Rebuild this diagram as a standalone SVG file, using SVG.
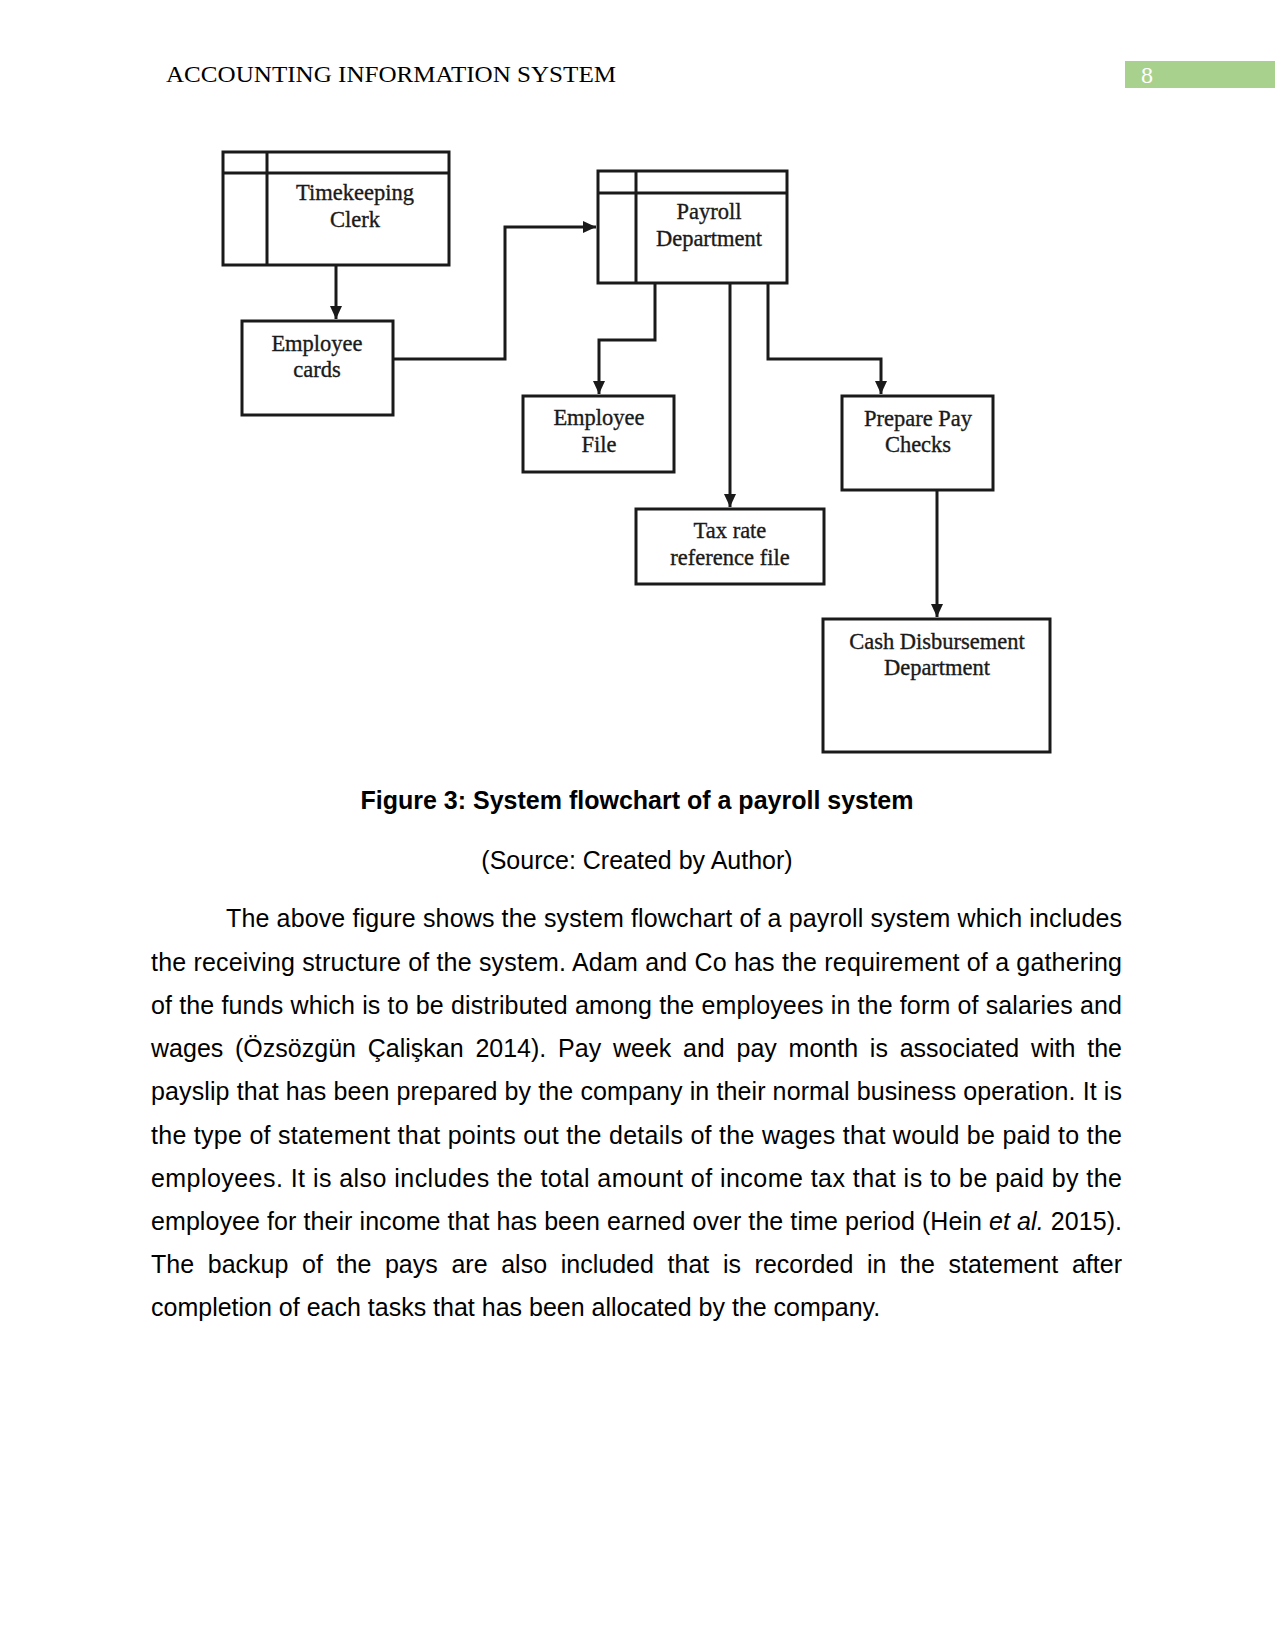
<svg xmlns="http://www.w3.org/2000/svg" width="1275" height="1651" viewBox="0 0 1275 1651">
<style>
.box{fill:#fff;stroke:#1a1a1a;stroke-width:3}
.div{fill:none;stroke:#1a1a1a;stroke-width:3}
.lbl{font-family:"Liberation Serif","Times New Roman",serif;font-size:22.5px;fill:#1a1a1a;stroke:#1a1a1a;stroke-width:0.35;text-anchor:middle}
.con{fill:none;stroke:#1a1a1a;stroke-width:3}
.body{font-family:"Liberation Sans",Arial,sans-serif;font-size:25px;fill:#000}
</style>
<defs>
<marker id="ah" markerUnits="userSpaceOnUse" markerWidth="14" markerHeight="12" refX="13" refY="6" orient="auto">
<path d="M0,0 L13,6 L0,12 z" fill="#1a1a1a"/>
</marker>
</defs>
<rect width="1275" height="1651" fill="#fff"/>
<g id="header">
<text x="166" y="82" font-family="'Liberation Serif','Times New Roman',serif" font-size="24" fill="#000" textLength="450" lengthAdjust="spacingAndGlyphs">ACCOUNTING INFORMATION SYSTEM</text>
<rect x="1125" y="61" width="150" height="27" fill="#a9d18e"/>
<text x="1141" y="83" font-family="'Liberation Serif','Times New Roman',serif" font-size="24" fill="#fff">8</text>
</g>
<g id="timekeeping-clerk">
<rect class="box" x="223" y="152" width="226" height="113"/>
<path class="div" d="M223,173 H449 M267,152 V265"/>
<text class="lbl" x="355" y="200">Timekeeping</text>
<text class="lbl" x="355" y="227">Clerk</text>
</g>
<g id="employee-cards">
<rect class="box" x="242" y="321" width="151" height="94"/>
<text class="lbl" x="317" y="351">Employee</text>
<text class="lbl" x="317" y="377">cards</text>
</g>
<g id="payroll-department">
<rect class="box" x="598" y="171" width="189" height="112"/>
<path class="div" d="M598,193 H787 M636,171 V283"/>
<text class="lbl" x="709" y="219">Payroll</text>
<text class="lbl" x="709" y="246">Department</text>
</g>
<g id="employee-file">
<rect class="box" x="523" y="396" width="151" height="76"/>
<text class="lbl" x="599" y="425">Employee</text>
<text class="lbl" x="599" y="452">File</text>
</g>
<g id="tax-rate-file">
<rect class="box" x="636" y="509" width="188" height="75"/>
<text class="lbl" x="730" y="538">Tax rate</text>
<text class="lbl" x="730" y="565">reference file</text>
</g>
<g id="prepare-pay-checks">
<rect class="box" x="842" y="396" width="151" height="94"/>
<text class="lbl" x="918" y="426">Prepare Pay</text>
<text class="lbl" x="918" y="452">Checks</text>
</g>
<g id="cash-disbursement">
<rect class="box" x="823" y="619" width="227" height="133"/>
<text class="lbl" x="937" y="649">Cash Disbursement</text>
<text class="lbl" x="937" y="675">Department</text>
</g>
<g id="connectors">
<path class="con" d="M336,265 V319" marker-end="url(#ah)"/>
<path class="con" d="M393,359 H505 V227 H596" marker-end="url(#ah)"/>
<path class="con" d="M655,283 V340 H599 V394" marker-end="url(#ah)"/>
<path class="con" d="M730,283 V507" marker-end="url(#ah)"/>
<path class="con" d="M768,283 V359 H881 V394" marker-end="url(#ah)"/>
<path class="con" d="M937,490 V617" marker-end="url(#ah)"/>
</g>
<g id="caption">
<text x="637" y="809" font-family="'Liberation Sans',Arial,sans-serif" font-size="25" font-weight="bold" text-anchor="middle" fill="#000">Figure 3: System flowchart of a payroll system</text>
<text x="637" y="869" font-family="'Liberation Sans',Arial,sans-serif" font-size="25" text-anchor="middle" fill="#000">(Source: Created by Author)</text>
</g>
<g id="body-text" class="body">
<text x="226" y="927" textLength="896" lengthAdjust="spacing">The above figure shows the system flowchart of a payroll system which includes</text>
<text x="151" y="971" textLength="971" lengthAdjust="spacing">the receiving structure of the system. Adam and Co has the requirement of a gathering</text>
<text x="151" y="1014" textLength="971" lengthAdjust="spacing">of the funds which is to be distributed among the employees in the form of salaries and</text>
<text x="151" y="1057" word-spacing="4.8" textLength="971" lengthAdjust="spacing">wages (Özsözgün Çalişkan 2014). Pay week and pay month is associated with the</text>
<text x="151" y="1100" textLength="971" lengthAdjust="spacing">payslip that has been prepared by the company in their normal business operation. It is</text>
<text x="151" y="1144" textLength="971" lengthAdjust="spacing">the type of statement that points out the details of the wages that would be paid to the</text>
<text x="151" y="1187" textLength="971" lengthAdjust="spacing">employees. It is also includes the total amount of income tax that is to be paid by the</text>
<text x="151" y="1230" textLength="971" lengthAdjust="spacing">employee for their income that has been earned over the time period (Hein <tspan font-style="italic">et al.</tspan> 2015).</text>
<text x="151" y="1273" word-spacing="6.7" textLength="971" lengthAdjust="spacing">The backup of the pays are also included that is recorded in the statement after</text>
<text x="151" y="1316">completion of each tasks that has been allocated by the company.</text>
</g>
</svg>
